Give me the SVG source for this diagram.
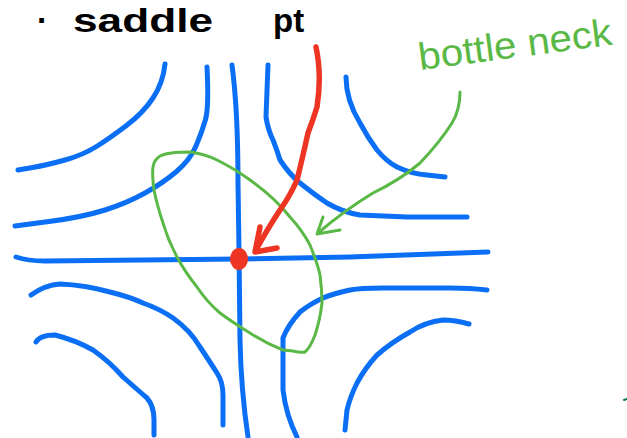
<svg xmlns="http://www.w3.org/2000/svg" width="627" height="438" viewBox="0 0 627 438">
<style>
.contour{fill:none;stroke:#0b6ff5;stroke-width:5;stroke-linecap:round;stroke-linejoin:round}
.red{fill:none;stroke:#ee3524;stroke-width:5.5;stroke-linecap:round;stroke-linejoin:round}
.green{fill:none;stroke:#5ab946;stroke-width:3;stroke-linecap:round;stroke-linejoin:round}
.title{font-family:"Liberation Sans",Arial,sans-serif;font-weight:bold;font-size:33px;fill:#000}
.label{font-family:"Liberation Sans",Arial,sans-serif;font-size:38px;fill:#5ab946}
</style>
<rect width="627" height="438" fill="#fff"/>
<g id="title">
<text class="title" y="32"><tspan x="37">·</tspan><tspan x="73" textLength="140" lengthAdjust="spacingAndGlyphs">saddle</tspan><tspan x="273">pt</tspan></text>
</g>
<g id="contours">
<path class="contour" d="M165,64 Q163,83 153,98 Q143,113 126.5,125.5 Q110,138 96.5,146.5 Q83,155 65,160 Q47,165 32.5,167.5 L18,170"/>
<path class="contour" d="M207,67 Q209,107 205.5,119.5 Q202,132 196,146 Q190,160 176.5,171.5 Q163,183 145,193 Q127,203 105,210 Q83,217 49,221.5 L15,226"/>
<path class="contour" d="M232,65 Q238,110 238,183 L239,250 L240,340 Q241,390 248,437"/>
<path class="contour" d="M16,257 Q28,261 45,261 L240,259 L350,257 L488,252"/>
<path class="contour" d="M31,295 Q45,285 60,284 Q85,285 110,292 Q130,297 143,303 Q160,309 173,318 Q190,330 200,347 Q210,362 217,373 Q223,382 223,395 L223,425"/>
<path class="contour" d="M36,342 Q40,335 55,335 Q75,340 93,350 Q110,362 123,377 Q140,392 147,398 Q154,406 154,420 L154,435"/>
<path class="contour" d="M487,290 Q470,288 450,288 L383,288 Q360,288 350,290 Q332,294 323,298 Q310,304 300,312 Q288,325 283,338 L283,390 Q286,415 297,437"/>
<path class="contour" d="M469,324 Q455,320 443,320 Q425,322 410,332 Q392,342 377,355 Q365,368 357,383 Q350,397 347,410 L345,430"/>
<path class="contour" d="M268,65 L266,117 Q268,130 273,140 Q277,150 280,160 Q290,175 300,183 Q315,195 327,203 Q342,212 360,215 L407,217 L467,217"/>
<path class="contour" d="M346,77 Q346,100 360,123 Q368,138 377,150 Q386,161 397,167 Q412,174 427,175 L445,177"/>
</g>
<g id="bottleneck">
<path class="green" d="M160,156 Q168,152 190,152 Q205,154 217,160 Q235,169 250,180 Q275,198 290,217 Q302,230 310,245 Q318,265 320,275 Q322,290 322,303 Q320,320 315,335 Q310,348 305,352 Q300,353 293,351 L283,350 Q265,343 250,333 Q232,322 220,313 Q207,302 197,287 Q185,272 177,257 Q168,240 163,223 Q157,205 154,190 Q152,175 153,167 Q154,160 160,156 Z"/>
<text class="label" x="420" y="70" textLength="195" lengthAdjust="spacingAndGlyphs" transform="rotate(-7.5 420 70)">bottle neck</text>
</g>
<g id="saddle-point">
<ellipse cx="239" cy="259" rx="9" ry="11" fill="#ee3524"/>
</g>
<g id="connectors">
<path class="red" d="M316,47 Q322,75 317,107 Q313,120 308,133 Q302,160 297,180 Q290,196 280,210 Q268,228 256,250"/>
<path class="red" stroke-width="6" d="M260,227 L255,252 L277,248"/>
<path class="green" d="M460,92 Q460,110 452,123 Q440,142 420,163 Q400,180 373,193 Q345,210 318,233"/>
<path class="green" d="M323,217 L317,234 L340,230"/>
</g>
<path d="M624,400 L627,399" stroke="#0b7a4a" stroke-width="2" stroke-linecap="round"/>
</svg>
